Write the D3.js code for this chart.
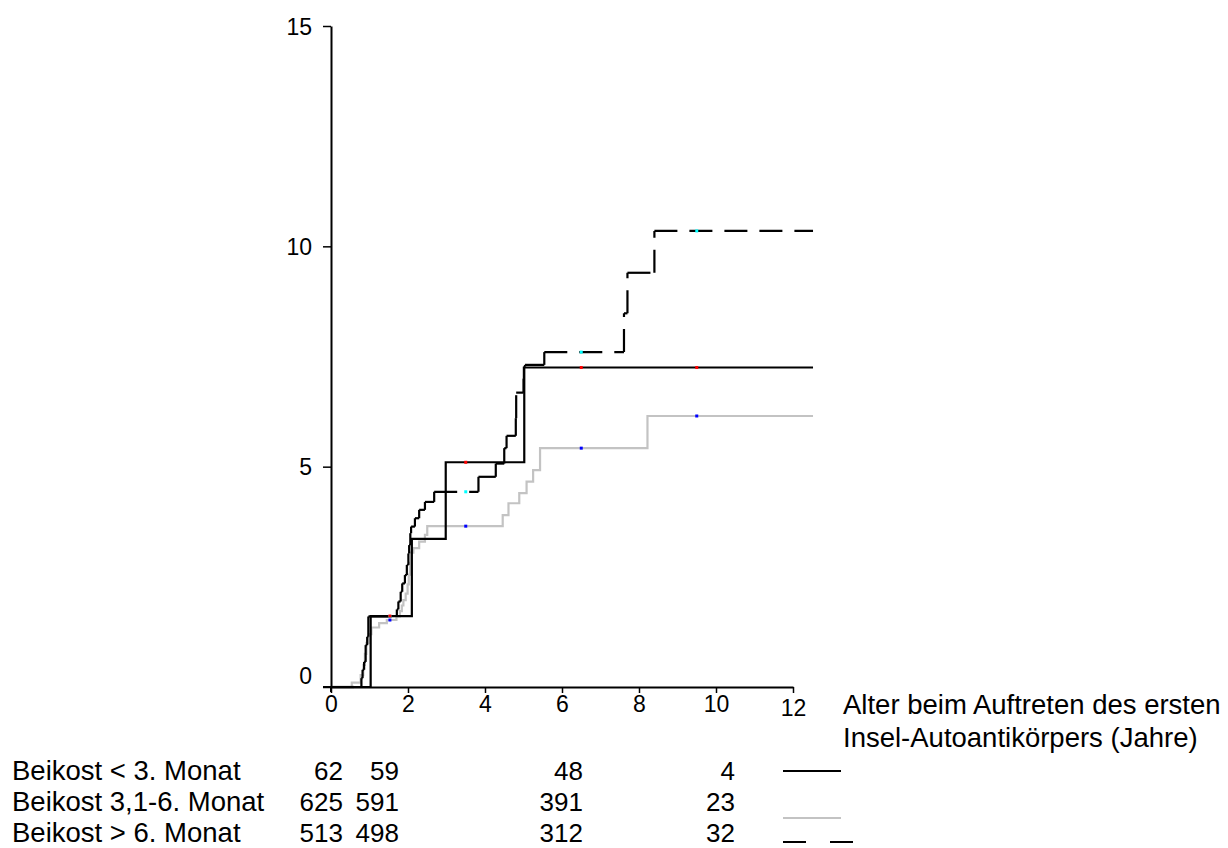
<!DOCTYPE html>
<html><head><meta charset="utf-8">
<script src="https://cdn.jsdelivr.net/npm/d3@7"></script>
<style>
body{margin:0;background:#fff;}
svg{display:block;font-family:"Liberation Sans",Arial,Helvetica,sans-serif;}
</style>
</head><body>
<svg id="chart" width="1228" height="848"></svg>
<script>
// ---------- data ----------
const xTicks = [0, 2, 4, 6, 8, 10, 12];
const yTicks = [0, 5, 10, 15];
const groupNames = ["Beikost < 3. Monat", "Beikost 3,1-6. Monat", "Beikost > 6. Monat"];
const atRiskLt3  = [62, 59, 48, 4];
const atRisk3to6 = [625, 591, 391, 23];
const atRiskGt6  = [513, 498, 312, 32];
const xTitleLines = ["Alter beim Auftreten des ersten", "Insel-Autoantikörpers (Jahre)"];

// step functions: [time (years), cumulative % after step]
const stepsLt3 = [[0,0],[1.03,1.61],[2.1,3.36],[2.98,5.1],[5.02,7.25]];
const steps3to6 = [[0,0],[0.54,0.1],[0.77,0.27],[0.84,0.5],[0.88,0.75],[0.92,1.0],[0.98,1.2],[1.05,1.35],
  [1.25,1.45],[1.45,1.52],[1.7,1.6],[1.79,1.72],[1.84,1.85],[1.88,1.97],[1.94,2.12],[1.99,2.33],
  [2.02,2.55],[2.05,2.82],[2.08,3.05],[2.14,3.15],[2.29,3.3],[2.44,3.45],[2.5,3.65],[4.46,3.9],
  [4.61,4.17],[4.89,4.4],[5.08,4.66],[5.25,4.92],[5.43,5.42],[8.22,6.15]];
const stepsGt6 = [[0,0],[0.79,0.2],[0.82,0.39],[0.86,0.57],[0.9,0.95],[0.94,1.14],[0.97,1.6],
  [1.71,1.76],[1.75,1.94],[1.81,2.16],[1.85,2.35],[1.92,2.54],[1.97,2.77],[2.01,3.03],[2.03,3.22],
  [2.06,3.49],[2.08,3.64],[2.18,3.83],[2.29,4.02],[2.44,4.2],[2.68,4.43],[3.83,4.77],[4.28,5.07],
  [4.5,5.42],[4.56,5.7],[4.8,6.1],[4.81,6.68],[5.0,7.0],[5.01,7.27],[5.04,7.31],[5.54,7.6],
  [7.61,8.48],[7.7,9.4],[8.4,10.35]];
const followUpEnd = 12.52;
const censorTimes = [1.53, 3.5, 6.5, 9.5];

// ---------- layout ----------
const svg = d3.select("#chart");
const x = d3.scaleLinear().domain([0, 12]).range([331, 793]);
const y = d3.scaleLinear().domain([0, 15]).range([687, 26]);
const FS_TICK = 23, FS_TEXT = 27.5, FS_NUM = 26;

function valueAt(steps, t) {
  let v = 0;
  for (const [ti, vi] of steps) if (ti <= t) v = vi;
  return v;
}
function withEnd(steps) { return steps.concat([[followUpEnd, steps[steps.length - 1][1]]]); }

const line = d3.line().x(d => x(d[0])).y(d => y(d[1])).curve(d3.curveStepAfter);

// gray curve
svg.append("path").datum(withEnd(steps3to6))
  .attr("d", line).attr("fill", "none").attr("stroke", "#c3c3c3").attr("stroke-width", 2.2);

// solid black curve
svg.append("path").datum(withEnd(stepsLt3))
  .attr("d", line).attr("fill", "none").attr("stroke", "#000").attr("stroke-width", 2.2);

// dashed curve: each segment dashed on its own (pattern restarts)
const segs = [];
const sd = withEnd(stepsGt6);
for (let i = 0; i < sd.length - 1; i++) {
  const [t0, v0] = sd[i], [t1, v1] = sd[i + 1];
  segs.push([t0, v0, t1, v0]);
  if (v1 !== v0) segs.push([t1, v0, t1, v1]);
}
svg.append("g").selectAll("line").data(segs).join("line")
  .attr("x1", d => x(d[0])).attr("y1", d => y(d[1]))
  .attr("x2", d => x(d[2])).attr("y2", d => y(d[3]))
  .attr("stroke", "#000").attr("stroke-width", 2.2)
  .attr("stroke-dasharray", "23 12");

// censor marks
const censorSets = [
  {steps: stepsGt6, color: "#00ffff"},
  {steps: steps3to6, color: "#0000ff"},
  {steps: stepsLt3, color: "#ff0000"}
];
censorSets.forEach(s => {
  svg.append("g").selectAll("rect").data(censorTimes).join("rect")
    .attr("x", t => x(t) - 1.5).attr("y", t => y(valueAt(s.steps, t)) - 1.5)
    .attr("width", 3).attr("height", 3).attr("fill", s.color);
});

// ---------- axes ----------
const yAxis = d3.axisLeft(y).tickValues(yTicks).tickSize(8).tickSizeOuter(0).tickPadding(11);
const gy = svg.append("g").attr("transform", `translate(${x(0)},0)`).call(yAxis);
gy.attr("font-size", FS_TICK).attr("font-family", "Liberation Sans, Arial, sans-serif");
gy.select(".domain").attr("stroke", "#000").attr("stroke-width", 2);
gy.selectAll(".tick line").attr("stroke", "#000").attr("stroke-width", 1.5);
gy.selectAll(".tick text").attr("font-size", FS_TICK)
  .attr("fill", "#000").attr("dy", d => d === 0 ? "-0.15em" : "0.35em");

const xAxis = d3.axisBottom(x).tickValues(xTicks).tickSize(6).tickSizeOuter(0).tickPadding(3);
const gx = svg.append("g").attr("transform", `translate(0,${y(0)})`).call(xAxis);
gx.attr("font-size", FS_TICK).attr("font-family", "Liberation Sans, Arial, sans-serif");
gx.select(".domain").attr("stroke", "#000").attr("stroke-width", 2);
gx.selectAll(".tick line").attr("stroke", "#000").attr("stroke-width", 1.5);
gx.selectAll(".tick text").attr("font-size", FS_TICK)
  .attr("fill", "#000").attr("dy", d => d === 12 ? "0.85em" : "0.71em");
// small extensions of the axis lines past the origin
svg.append("line").attr("x1", x(0) - 8).attr("x2", x(0)).attr("y1", y(0)).attr("y2", y(0))
  .attr("stroke", "#000").attr("stroke-width", 2);
svg.append("line").attr("x1", x(0)).attr("x2", x(0)).attr("y1", y(0)).attr("y2", y(0) + 5)
  .attr("stroke", "#000").attr("stroke-width", 2);

// axis title (right of the axis)
svg.append("g").selectAll("text").data(xTitleLines).join("text")
  .attr("x", 843).attr("y", (d, i) => 714 + i * 33)
  .attr("font-size", FS_TEXT).attr("fill", "#000").text(d => d);

// ---------- at-risk table ----------
const rows = [atRiskLt3, atRisk3to6, atRiskGt6];
const rowBase = [780, 811, 842];
const colRight = [343, 399, 583, 735];
const table = svg.append("g").attr("fill", "#000");
groupNames.forEach((g, i) => {
  table.append("text").attr("x", 12).attr("y", rowBase[i]).attr("font-size", FS_TEXT).text(g);
  rows[i].forEach((n, j) => {
    table.append("text").attr("x", colRight[j]).attr("y", rowBase[i])
      .attr("font-size", FS_NUM).attr("text-anchor", "end").text(n);
  });
});
// legend lines
svg.append("line").attr("x1", 783).attr("x2", 841).attr("y1", 771).attr("y2", 771)
  .attr("stroke", "#000").attr("stroke-width", 2);
svg.append("line").attr("x1", 783).attr("x2", 841).attr("y1", 818).attr("y2", 818)
  .attr("stroke", "#c3c3c3").attr("stroke-width", 2);
svg.append("line").attr("x1", 783).attr("x2", 854).attr("y1", 842).attr("y2", 842)
  .attr("stroke", "#000").attr("stroke-width", 2).attr("stroke-dasharray", "23 24");
</script>
</body></html>
